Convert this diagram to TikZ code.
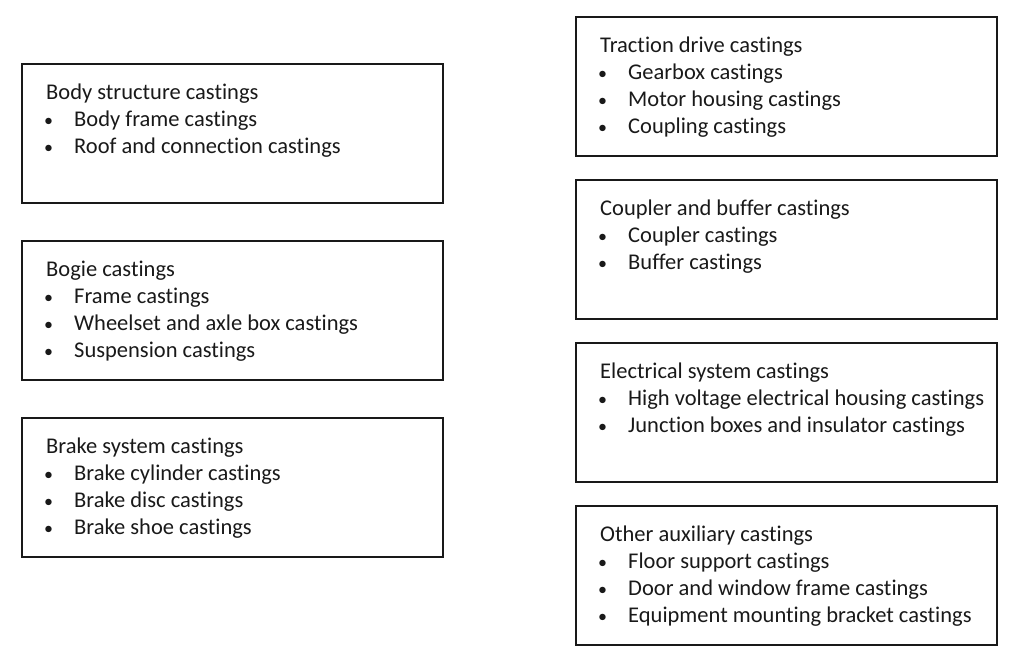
\documentclass[tikz,border=0pt]{standalone}
\usepackage{fontspec}
\setmainfont[Ligatures=NoCommon]{Carlito}
\usetikzlibrary{calc}
\tikzset{
  box/.style={draw=black!90, line width=1.4pt, rectangle, inner sep=0pt, outer sep=0pt,
    minimum width=421pt, minimum height=139pt, anchor=north west},
  ln/.style={anchor=base west, inner sep=0pt, text=black!90, font=\fontsize{22.5}{27}\selectfont},
  bul/.style={ln, anchor=base, font=\fontsize{18}{27}\selectfont}
}
\newcommand\castbox[5]{%
  \node[box] (#1) at (#2,#3) {};
  \node[ln] (#1-t) at ($(#1.north west)+(24,35.5)$) {#4};
  \foreach \lbl [count=\k] in {#5} {
    \node[bul] (#1-b\k) at ($(#1.north west)+(26.5,35.5+27*\k)$) {\textbullet};
    \node[ln] (#1-i\k) at ($(#1.north west)+(52,35.5+27*\k)$) {\lbl};
  }
}
\begin{document}
\begin{tikzpicture}[x=1pt,y=-1pt]
\useasboundingbox (0,0) rectangle (1024,663);
\castbox{a}{22}{64}{Body structure castings}{Body frame castings,Roof and connection castings}
\castbox{b}{22}{241}{Bogie castings}{Frame castings,Wheelset and axle box castings,Suspension castings}
\castbox{c}{22}{418}{Brake system castings}{Brake cylinder castings,Brake disc castings,Brake shoe castings}
\castbox{d}{576}{17}{Traction drive castings}{Gearbox castings,Motor housing castings,Coupling castings}
\castbox{e}{576}{180}{Coupler and buffer castings}{Coupler castings,Buffer castings}
\castbox{f}{576}{343}{Electrical system castings}{High voltage electrical housing castings,Junction boxes and insulator castings}
\castbox{g}{576}{506}{Other auxiliary castings}{Floor support castings,Door and window frame castings,Equipment mounting bracket castings}
\end{tikzpicture}
\end{document}
